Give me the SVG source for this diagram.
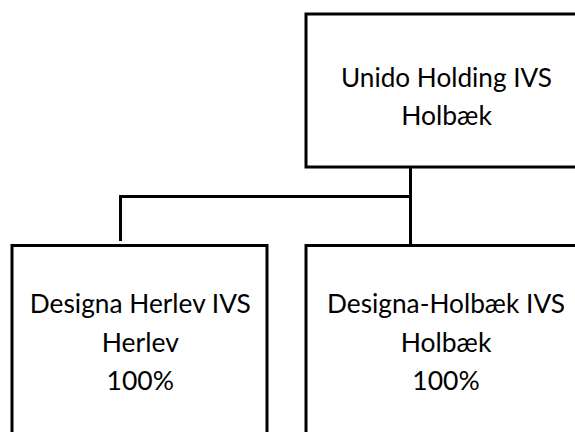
<svg xmlns="http://www.w3.org/2000/svg" width="575" height="432" viewBox="0 0 575 432">
  <style>
    .box { fill: #ffffff; stroke: #000000; stroke-width: 3; }
    .conn { fill: none; stroke: #000000; stroke-width: 3; }
    .lbl { font-family: Lato, "Open Sans", "Liberation Sans", sans-serif; font-size: 26.5px; fill: #000000; text-anchor: middle; }
  </style>
  <rect width="575" height="432" fill="#ffffff"/>
  <g id="connectors">
    <line class="conn" x1="410.5" y1="167" x2="410.5" y2="245"/>
    <polyline class="conn" points="410.5,196.5 120.5,196.5 120.5,241"/>
  </g>
  <g id="node-unido">
    <rect class="box" x="306" y="14" width="280" height="153"/>
    <text class="lbl" x="446.5" y="87" textLength="211" lengthAdjust="spacingAndGlyphs">Unido Holding IVS</text>
    <text class="lbl" x="446.5" y="125">Holbæk</text>
  </g>
  <g id="node-herlev">
    <rect class="box" x="12" y="245.5" width="255" height="200"/>
    <text class="lbl" x="140.3" y="313" textLength="221" lengthAdjust="spacingAndGlyphs">Designa Herlev IVS</text>
    <text class="lbl" x="140.3" y="351.5">Herlev</text>
    <text class="lbl" x="140.3" y="390">100%</text>
  </g>
  <g id="node-holbaek">
    <rect class="box" x="306" y="245.5" width="280" height="200"/>
    <text class="lbl" x="446" y="313" textLength="238" lengthAdjust="spacingAndGlyphs">Designa-Holbæk IVS</text>
    <text class="lbl" x="446" y="351.5">Holbæk</text>
    <text class="lbl" x="446" y="390">100%</text>
  </g>
</svg>
